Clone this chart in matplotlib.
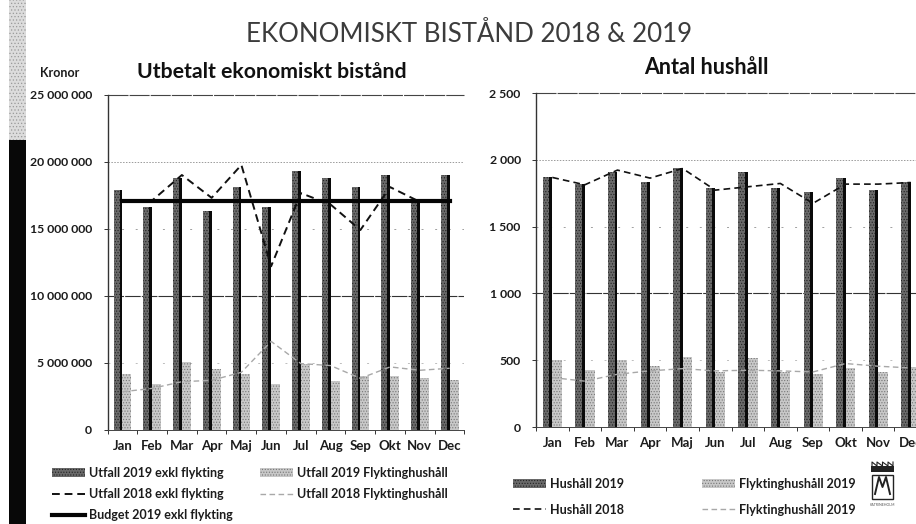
from matplotlib import pyplot as plt
from matplotlib.patches import Rectangle

plt.rcParams['font.family'] = ['Lato', 'DejaVu Sans']
plt.rcParams['hatch.linewidth'] = 0.5

W = 916
H = 524

months = ['Jan', 'Feb', 'Mar', 'Apr', 'Maj', 'Jun', 'Jul', 'Aug', 'Sep', 'Okt', 'Nov', 'Dec']

# Kronor, in millions
utfall_2019 = [17.9, 16.6, 18.8, 16.35, 18.1, 16.6, 19.3, 18.8, 18.1, 19.0, 17.2, 19.0]
flykting_2019 = [4.2, 3.45, 5.05, 4.55, 4.15, 3.4, 4.95, 3.65, 4.0, 4.0, 3.9, 3.7]
utfall_2018 = [17.0, 17.1, 19.0, 17.3, 19.75, 12.2, 17.65, 16.8, 14.9, 18.1, 17.0, 17.0]
flykting_2018 = [2.85, 3.1, 3.6, 3.7, 4.3, 6.6, 4.95, 4.8, 3.85, 4.7, 4.45, 4.6]
budget_2019 = [17.05] * 12
kronor_ticks = [0, 5, 10, 15, 20, 25]
kronor_labels = ['0', '5 000 000', '10 000 000', '15 000 000', '20 000 000', '25 000 000']

# Antal hushall
hushall_2019 = [1875, 1818, 1910, 1836, 1938, 1791, 1905, 1791, 1761, 1866, 1776, 1833]
flyktinghushall_2019 = [500, 430, 500, 455, 525, 412, 515, 412, 395, 440, 412, 450]
hushall_2018 = [1868, 1813, 1923, 1863, 1935, 1773, 1798, 1823, 1674, 1818, 1818, 1830]
flyktinghushall_2018 = [370, 343, 395, 420, 437, 420, 425, 420, 412, 475, 455, 442]
hushall_ticks = [0, 500, 1000, 1500, 2000, 2500]
hushall_labels = ['0', '500', '1 000', '1 500', '2 000', '2 500']

DARK = '#6a6a6a'
LIGHT = '#c8c8c8'
TEXT = '#1c1c1c'


def px_axes(fig, left, top, right, bottom):
    return fig.add_axes([left / W, 1 - bottom / H, (right - left) / W, (bottom - top) / H])


def grid_lines(ax, values):
    # every gridline came out differently in the scan
    ax.axhline(values[1], color='#bdbdbd', lw=0.7, ls=(0, (2, 12)), zorder=1)
    ax.axhline(values[2], color='#333333', lw=0.8, ls=(0, (14, 1)), zorder=1)
    ax.axhline(values[3], color='#a0a0a0', lw=0.7, ls=(0, (2, 12)), zorder=1)
    ax.axhline(values[4], color='#9a9a9a', lw=0.7, ls=(0, (1.5, 1.5)), zorder=1)
    ax.axhline(values[5], color='#444444', lw=0.8, ls=(0, (18, 1)), zorder=1, clip_on=False)


def style_axes(ax, ticks, labels):
    ax.set_xlim(-0.5, 11.5)
    ax.set_ylim(ticks[0], ticks[-1])
    ax.set_yticks(ticks)
    ax.set_yticklabels(labels, fontsize=8.8, fontweight='bold', color=TEXT)
    ax.set_xticks([i - 0.5 for i in range(13)])
    ax.set_xticklabels([])
    ax.set_xticks(range(12), minor=True)
    ax.set_xticklabels(months, minor=True, fontsize=9.5, fontweight='bold', color=TEXT)
    ax.tick_params(axis='x', which='major', length=3, width=0.7, color='#333333')
    ax.tick_params(axis='x', which='minor', length=0, pad=7)
    ax.tick_params(axis='y', length=3, width=0.7, color='#333333', pad=8)
    ax.spines['top'].set_visible(False)
    ax.spines['right'].set_visible(False)
    ax.spines['left'].set_linewidth(1.0)
    ax.spines['left'].set_color('#333333')
    ax.spines['bottom'].set_linewidth(0.7)
    ax.spines['bottom'].set_color('#444444')


def bars(ax, dark, light, dark_label, light_label):
    x = range(12)
    dark_bars = ax.bar([i - 0.145 for i in x], dark, width=0.29, color=DARK, edgecolor='#222222',
                       hatch='......', linewidth=0, zorder=2, label=dark_label)
    # the scan leaves a black stripe down the right side of the dark bars
    ax.bar([i - 0.045 for i in x], dark, width=0.09, color='#0a0a0a', linewidth=0, zorder=2.5)
    light_bars = ax.bar([i + 0.15 for i in x], light, width=0.30, color=LIGHT, edgecolor='#777777',
                        hatch='......', linewidth=0, zorder=3, label=light_label)
    return dark_bars, light_bars


fig = plt.figure(figsize=(W / 100, H / 100), dpi=100, facecolor='white')

fig.text(469 / W, 1 - 35 / H, 'EKONOMISKT BISTÅND 2018 & 2019', fontsize=18.6, color='#3c3c3c',
         ha='center', va='center')
fig.text(60 / W, 1 - 73 / H, 'Kronor', fontsize=9, fontweight='bold', color=TEXT, ha='center', va='center')
fig.text(272 / W, 1 - 72 / H, 'Utbetalt ekonomiskt bistånd', fontsize=15.3, fontweight='bold', color='#111111',
         ha='center', va='center')
fig.text(706 / W, 1 - 68 / H, 'Antal hushåll', fontsize=15.5, fontweight='bold', color='#111111',
         ha='center', va='center')

# Edge of the scanned page on the left
fig.add_artist(Rectangle((9 / W, 1 - 140 / H), 17 / W, 140 / H, transform=fig.transFigure,
                         facecolor='#dcdcdc', edgecolor='#9a9a9a', hatch='.....', linewidth=0))
fig.add_artist(Rectangle((9 / W, 0), 17 / W, 1 - 140 / H, transform=fig.transFigure,
                         facecolor='#080808', linewidth=0))

# Left chart
ax1 = px_axes(fig, 107.5, 94.5, 464.5, 430)
grid_lines(ax1, kronor_ticks)
dark1, light1 = bars(ax1, utfall_2019, flykting_2019, 'Utfall 2019 exkl flykting', 'Utfall 2019 Flyktinghushåll')
line1, = ax1.plot(range(12), utfall_2018, color='#111111', lw=1.4, ls=(0, (4, 2.5)), zorder=4)
line2, = ax1.plot(range(12), flykting_2018, color='#a8a8a8', lw=1.0, ls=(0, (4, 2.5)), zorder=4)
line3, = ax1.plot(range(12), budget_2019, color='#050505', lw=3.0, zorder=5)
style_axes(ax1, kronor_ticks, kronor_labels)

fig.legend([dark1, line1, line3, light1, line2],
           ['Utfall 2019 exkl flykting', 'Utfall 2018 exkl flykting', 'Budget 2019 exkl flykting',
            'Utfall 2019 Flyktinghushåll', 'Utfall 2018 Flyktinghushåll'],
           ncol=2, frameon=False, loc='upper left', bbox_to_anchor=(52 / W, 1 - 467 / H),
           borderaxespad=0, borderpad=0, prop={'size': 9, 'weight': 'bold'}, labelcolor=TEXT,
           handlelength=2.65, handletextpad=0.3, columnspacing=2.2, labelspacing=0.72)

# Right chart, runs off the page
ax2 = px_axes(fig, 536, 93, 927, 427)
grid_lines(ax2, hushall_ticks)
dark2, light2 = bars(ax2, hushall_2019, flyktinghushall_2019, 'Hushåll 2019', 'Flyktinghushåll 2019')
line4, = ax2.plot(range(12), hushall_2018, color='#111111', lw=1.2, ls=(0, (4, 2.5)), zorder=4)
line5, = ax2.plot(range(12), flyktinghushall_2018, color='#a8a8a8', lw=1.0, ls=(0, (4, 2.5)), zorder=4)
style_axes(ax2, hushall_ticks, hushall_labels)

fig.legend([dark2, line4], ['Hushåll 2019', 'Hushåll 2018'], frameon=False,
           loc='upper left', bbox_to_anchor=(513 / W, 1 - 478 / H), borderaxespad=0, borderpad=0,
           prop={'size': 9, 'weight': 'bold'}, labelcolor=TEXT, handlelength=2.65, handletextpad=0.3,
           labelspacing=1.1)
fig.legend([light2, line5], ['Flyktinghushåll 2019', 'Flyktinghushåll 2019'], frameon=False,
           loc='upper left', bbox_to_anchor=(702 / W, 1 - 478 / H), borderaxespad=0, borderpad=0,
           prop={'size': 9, 'weight': 'bold'}, labelcolor=TEXT, handlelength=2.65, handletextpad=0.3,
           labelspacing=1.1)

# Small municipal crest, lower right
crest = px_axes(fig, 868, 460, 897, 510)
crest.set_xlim(0, 29)
crest.set_ylim(50, 0)
crest.axis('off')
crest.add_patch(Rectangle((3, 6), 23, 6, facecolor='#222222', linewidth=0))
crest.plot([4, 4, 9, 9, 14.5, 14.5, 20, 20, 25, 25], [6, 2, 6, 2, 6, 2, 6, 2, 6, 2], color='#222222', lw=0.8)
crest.add_patch(Rectangle((4, 15), 21, 24, facecolor='white', edgecolor='#222222', linewidth=1.0))
crest.plot([7, 11, 14.5, 18, 22], [34, 17, 27, 17, 34], color='#222222', lw=1.4)
crest.text(14.5, 45, 'KATRINEHOLM', fontsize=2.5, color='#555555', ha='center', va='center')

plt.savefig('out.png', dpi=100)
